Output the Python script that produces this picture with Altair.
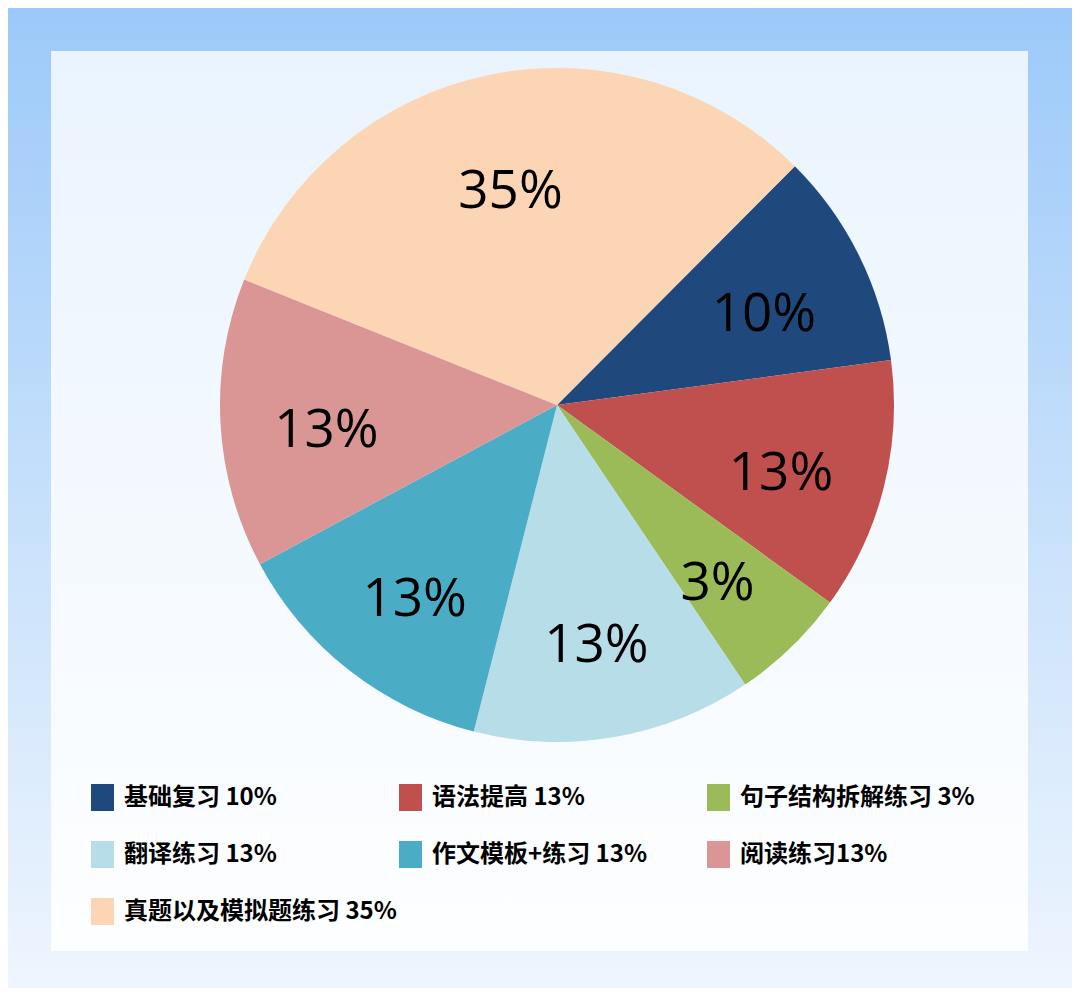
import math
import altair as alt
import pandas as pd

# ---- data ----
categories = ["基础复习", "语法提高", "句子结构拆解练习", "翻译练习",
              "作文模板+练习", "阅读练习", "真题以及模拟题练习"]
legend_labels = ["基础复习 10%", "语法提高 13%", "句子结构拆解练习 3%", "翻译练习 13%",
                 "作文模板+练习 13%", "阅读练习13%", "真题以及模拟题练习 35%"]
slice_values = [10.4, 12.1, 5.6, 13.4, 13.2, 13.9, 31.4]   # measured slice angles (% of circle)
pct_labels = ["10%", "13%", "3%", "13%", "13%", "13%", "35%"]
colors = ["#1F497D", "#C0504D", "#9BBB59", "#B7DDE8", "#4BACC6", "#D99694", "#FCD5B5"]

df = pd.DataFrame({
    "category": categories,
    "legend": legend_labels,
    "value": slice_values,
    "pct": pct_labels,
    "idx": list(range(len(categories))),
})

W, H = 1064, 980
CX, CY, R = 549, 397, 337
start = math.radians(44.9)

bg_df = pd.DataFrame({"a": [0]})

outer = alt.Chart(bg_df).mark_rect(
    fill=alt.Gradient(
        gradient="linear", x1=0, x2=0, y1=0, y2=1,
        stops=[alt.GradientStop(color="#9CC9F9", offset=0),
               alt.GradientStop(color="#C6E0FB", offset=0.5),
               alt.GradientStop(color="#EEF5FE", offset=1)],
    )
).encode(x=alt.value(0), x2=alt.value(W), y=alt.value(0), y2=alt.value(H))

panel = alt.Chart(bg_df).mark_rect(
    fill=alt.Gradient(
        gradient="linear", x1=0, x2=0, y1=0, y2=1,
        stops=[alt.GradientStop(color="#EAF4FE", offset=0),
               alt.GradientStop(color="#FDFEFF", offset=1)],
    )
).encode(x=alt.value(43), x2=alt.value(1020), y=alt.value(43), y2=alt.value(943))

theta_scale = alt.Scale(range=[start, start + 2 * math.pi])

rect_path = "M-0.85,-1H0.85V1H-0.85Z"

pie = alt.Chart(df).mark_arc(outerRadius=R, stroke=None).encode(
    x=alt.value(CX), y=alt.value(CY),
    theta=alt.Theta("value:Q", stack=True, scale=theta_scale),
    order=alt.Order("idx:Q"),
    color=alt.Color(
        "legend:N",
        sort=legend_labels,
        scale=alt.Scale(domain=legend_labels, range=colors),
        legend=alt.Legend(
            title=None, orient="none", legendX=81, legendY=776,
            direction="horizontal",
            columns=3, gridAlign="all", columnPadding=0, rowPadding=30,
            symbolType=rect_path, symbolSize=729, symbolStrokeWidth=0,
            symbolOpacity=1, labelFont="Noto Sans CJK SC", labelFontSize=24,
            labelFontWeight="bold", labelColor="#000000", labelOffset=8,
            labelLimit=500, padding=0,
        ),
    ),
)

text = alt.Chart(df).mark_text(
    radius=231, fontSize=53, font="Open Sans", color="#000000",
    align="center", baseline="middle", dy=13,
).encode(
    x=alt.value(CX), y=alt.value(CY),
    theta=alt.Theta("value:Q", stack=True, scale=theta_scale),
    order=alt.Order("idx:Q"),
    detail="legend:N",
    text="pct:N",
)

chart = alt.layer(outer, panel, pie, text).properties(
    width=W, height=H,
    autosize=alt.AutoSizeParams(type="none"),
    padding=0,
).configure_view(stroke=None)

chart.save("out.html", embed_options={"renderer": "svg", "actions": False})
